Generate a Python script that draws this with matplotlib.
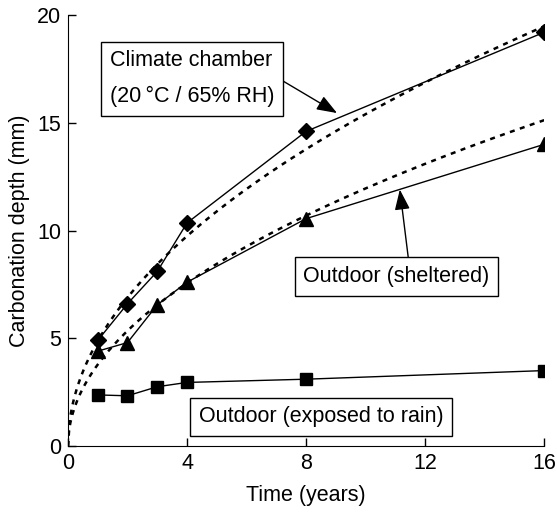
import numpy as np
import matplotlib
matplotlib.use('Agg')
import matplotlib.pyplot as plt

plt.rcParams['font.family'] = ['Liberation Sans', 'DejaVu Sans']

# measured values
years = [1, 2, 3, 4, 8, 16]
climate = [4.9, 6.6, 8.1, 10.35, 14.6, 19.2]
sheltered = [4.4, 4.8, 6.55, 7.6, 10.55, 14.0]
exposed = [2.37, 2.33, 2.75, 2.95, 3.1, 3.5]

# sqrt(t) fit coefficients, d = k * sqrt(t)
k_climate = 4.87
k_sheltered = 3.78

xticks = [0, 4, 8, 12, 16]
yticks = [0, 5, 10, 15, 20]

fs = 15.5

fig = plt.figure(figsize=(5.57, 5.18), dpi=100)
ax = fig.add_axes([0.122, 0.139, 0.855, 0.832])

t = np.linspace(0, 16, 400)
ax.plot(t, k_climate * np.sqrt(t), color='black', lw=1.8, ls=(0, (2, 2.2)))
ax.plot(t, k_sheltered * np.sqrt(t), color='black', lw=1.8, ls=(0, (2, 2.2)))

ax.plot(years, climate, color='black', lw=1, marker='D', ms=8)
ax.plot(years, sheltered, color='black', lw=1, marker='^', ms=9.5)
ax.plot(years, exposed, color='black', lw=1, marker='s', ms=8.5)

ax.set_xlim(0, 16)
ax.set_ylim(0, 20)
ax.set_xticks(xticks)
ax.set_yticks(yticks)
ax.tick_params(direction='in', length=6, width=1, labelsize=fs, pad=5)
for s in ['top', 'right']:
    ax.spines[s].set_visible(False)
ax.set_xlabel('Time (years)', fontsize=fs, labelpad=8)
ax.set_ylabel('Carbonation depth (mm)', fontsize=fs, labelpad=5)

box = dict(boxstyle='square,pad=0.4', fc='white', ec='black', lw=1)
arrow = dict(arrowstyle='-|>,head_length=0.8,head_width=0.3', color='black', lw=1,
             shrinkA=0, shrinkB=0)

ax.annotate('Climate chamber\n(20\u2009°C / 65% RH)', xy=(9.04, 15.45), xytext=(1.4, 17.05),
            fontsize=fs, ha='left', va='center', linespacing=1.9, bbox=box,
            arrowprops=dict(arrow, relpos=(1.0, 0.55)))
ax.annotate('Outdoor (sheltered)', xy=(11.15, 11.9), xytext=(11.03, 7.87),
            fontsize=fs, ha='center', va='center', bbox=box,
            arrowprops=dict(arrow, relpos=(0.57, 1.0)))
ax.text(8.5, 1.35, 'Outdoor (exposed to rain)', fontsize=fs, ha='center', va='center',
        bbox=box)

fig.savefig('out.png', dpi=100)
